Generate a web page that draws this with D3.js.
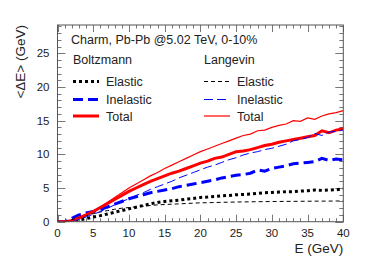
<!DOCTYPE html>
<html>
<head>
<meta charset="utf-8">
<script src="https://cdn.jsdelivr.net/npm/d3@7"></script>
<style>
    body { margin: 0; background: #fff; }
    svg { display: block; font-family: "Liberation Sans", Arial, sans-serif; }
    .curve { fill: none; }
</style>
</head>
<body>
<svg id="chart" width="382" height="261"></svg>
<script>
"use strict";

// energies (GeV)
var energies = [
    0, 1, 2, 3, 4, 5, 6, 7, 8, 9, 10, 11, 12, 13, 14, 15, 16, 17, 18, 19, 20,
    21, 22, 23, 24, 25, 26, 27, 28, 29, 30, 31, 32, 33, 34, 35, 36, 37, 38,
    39, 40
];

// <dE> (GeV), Boltzmann
var boltzElastic = [
    0, 0, 0.1, 0.25, 0.45, 0.7, 0.9, 1.15, 1.4, 1.65, 1.9, 2.15, 2.4, 2.65,
    2.85, 3.0, 3.1, 3.2, 3.35, 3.45, 3.6, 3.65, 3.75, 3.85, 3.9, 4.0, 4.05,
    4.1, 4.2, 4.3, 4.35, 4.4, 4.45, 4.45, 4.55, 4.6, 4.7, 4.65, 4.7, 4.75, 4.85
];
var boltzInelastic = [
    0, 0, 0.5, 1.0, 1.3, 1.5, 1.8, 2.2, 2.6, 3.0, 3.4, 3.7, 4.0, 4.3, 4.5,
    4.7, 4.9, 5.2, 5.4, 5.6, 5.8, 6.0, 6.2, 6.5, 6.7, 6.9, 7.0, 7.2, 7.7, 7.5,
    7.9, 8.1, 8.3, 8.6, 8.7, 8.8, 8.9, 9.4, 9.1, 9.3, 9.2
];
var boltzTotal = [
    0, 0, 0.15, 0.55, 1.0, 1.5, 2.1, 2.7, 3.3, 3.9, 4.5, 5.0, 5.5, 6.0, 6.4,
    6.8, 7.2, 7.5, 7.9, 8.3, 8.7, 9.0, 9.4, 9.6, 10.0, 10.4, 10.5, 10.7, 11.0,
    11.3, 11.5, 11.8, 12.0, 12.2, 12.4, 12.6, 12.8, 13.5, 13.2, 13.6, 13.8
];

// <dE> (GeV), Langevin
var langElastic = [
    0, 0, 0.3, 0.6, 0.9, 1.2, 1.45, 1.65, 1.85, 2.0, 2.1, 2.2, 2.3, 2.4, 2.5,
    2.55, 2.6, 2.65, 2.7, 2.75, 2.8, 2.82, 2.85, 2.88, 2.9, 2.92, 2.94, 2.95,
    2.97, 2.98, 3.0, 3.0, 3.02, 3.02, 3.03, 3.04, 3.05, 3.05, 3.06, 3.07, 3.08
];
var langInelastic = [
    0, 0, 0.1, 0.35, 0.7, 1.1, 1.5, 2.0, 2.5, 3.0, 3.4, 3.9, 4.3, 4.8, 5.2,
    5.6, 6.0, 6.5, 6.9, 7.3, 7.7, 8.1, 8.4, 8.8, 9.2, 9.5, 9.9, 10.2, 10.4,
    10.7, 10.9, 11.2, 11.5, 12.0, 12.2, 12.5, 13.1, 12.8, 13.3, 13.4, 13.6
];
var langTotal = [
    0, 0, 0.15, 0.55, 1.0, 1.6, 2.2, 2.9, 3.6, 4.3, 5.0, 5.6, 6.2, 6.8, 7.3,
    7.9, 8.4, 8.9, 9.4, 9.9, 10.4, 10.8, 11.2, 11.6, 12.0, 12.4, 12.8, 13.0,
    13.5, 13.6, 14.0, 14.3, 14.5, 15.0, 14.9, 15.4, 15.2, 15.7, 16.0, 16.2,
    16.5
];

var xTicks = [0, 5, 10, 15, 20, 25, 30, 35, 40];
var yTicks = [0, 5, 10, 15, 20, 25];

var series = [
    {name: "Elastic", group: "Boltzmann", values: boltzElastic,
        color: "#000", width: 3, dash: "3,3"},
    {name: "Inelastic", group: "Boltzmann", values: boltzInelastic,
        color: "#0000ff", width: 3, dash: "10,5"},
    {name: "Total", group: "Boltzmann", values: boltzTotal,
        color: "#ff0000", width: 3, dash: null},
    {name: "Elastic", group: "Langevin", values: langElastic,
        color: "#000", width: 1, dash: "4,3"},
    {name: "Inelastic", group: "Langevin", values: langInelastic,
        color: "#0000ff", width: 1, dash: "9,4"},
    {name: "Total", group: "Langevin", values: langTotal,
        color: "#ff0000", width: 1.2, dash: null}
];

var frame = {left: 57.5, right: 343.3, top: 25, bottom: 221.7};

var x = d3.scaleLinear().domain([0, 40])
    .range([frame.left, frame.right]);
var y = d3.scaleLinear().domain([0, 29.2])
    .range([frame.bottom, frame.top]);

var svg = d3.select("#chart");

svg.append("clipPath").attr("id", "clip")
    .append("rect")
    .attr("x", frame.left).attr("y", frame.top)
    .attr("width", frame.right - frame.left)
    .attr("height", frame.bottom - frame.top);

// ticks, ROOT style (inside, mirrored)
var tickColor = "#777";
var ticksG = svg.append("g").attr("stroke", tickColor)
    .attr("stroke-width", 1);
d3.range(0, 41, 1).forEach(function (v) {
    var major = v % 5 === 0;
    var px = Math.round(x(v)) + 0.5;
    var len = major ? 7 : 3.5;
    ticksG.append("line").attr("x1", px).attr("x2", px)
        .attr("y1", frame.bottom).attr("y2", frame.bottom - len);
    ticksG.append("line").attr("x1", px).attr("x2", px)
        .attr("y1", frame.top).attr("y2", frame.top + len);
});
d3.range(0, 30, 1).forEach(function (v) {
    var major = v % 5 === 0;
    var py = Math.round(y(v)) + 0.5;
    var len = major ? 8 : 4;
    ticksG.append("line").attr("y1", py).attr("y2", py)
        .attr("x1", frame.left).attr("x2", frame.left + len);
    ticksG.append("line").attr("y1", py).attr("y2", py)
        .attr("x1", frame.right).attr("x2", frame.right - len);
});

var line = d3.line()
    .x(function (d) { return x(d[0]); })
    .y(function (d) { return y(d[1]); });

var curves = svg.append("g").attr("clip-path", "url(#clip)");
series.forEach(function (s) {
    curves.append("path")
        .datum(energies.map(function (e, i) { return [e, s.values[i]]; }))
        .attr("class", "curve")
        .attr("stroke", s.color)
        .attr("stroke-width", s.width)
        .attr("stroke-dasharray", s.dash)
        .attr("d", line);
});

// frame
svg.append("rect")
    .attr("x", frame.left).attr("y", frame.top)
    .attr("width", frame.right - frame.left)
    .attr("height", frame.bottom - frame.top)
    .attr("fill", "none").attr("stroke", "#555").attr("stroke-width", 1);

// tick labels
svg.append("g").selectAll("text").data(xTicks).join("text")
    .attr("x", function (d) { return x(d); })
    .attr("y", 237)
    .attr("text-anchor", "middle")
    .attr("font-size", 11.5)
    .attr("fill", "#222")
    .text(function (d) { return d; });

svg.append("g").selectAll("text").data(yTicks).join("text")
    .attr("x", 49.5)
    .attr("y", function (d) { return y(d) + 4; })
    .attr("text-anchor", "end")
    .attr("font-size", 11.5)
    .attr("fill", "#222")
    .text(function (d) { return d; });

// axis titles
svg.append("text")
    .attr("x", frame.right).attr("y", 253)
    .attr("text-anchor", "end")
    .attr("font-size", 13.5)
    .attr("fill", "#222")
    .text("E (GeV)");

svg.append("text")
    .attr("transform", "translate(24.5," + frame.top + ") rotate(-90)")
    .attr("text-anchor", "end")
    .attr("font-size", 13.5)
    .attr("fill", "#222")
    .text("<ΔE> (GeV)");

// legend
svg.append("text")
    .attr("x", 71).attr("y", 44)
    .attr("font-size", 12.5).attr("fill", "#222")
    .text("Charm, Pb-Pb @5.02 TeV, 0-10%");

var legendCols = {Boltzmann: 73, Langevin: 204};
Object.keys(legendCols).forEach(function (g) {
    svg.append("text")
        .attr("x", legendCols[g]).attr("y", 64)
        .attr("font-size", 12.5).attr("fill", "#222")
        .text(g);
});

var rowY = {Elastic: 81.5, Inelastic: 99.5, Total: 116};
series.forEach(function (s) {
    var lx = legendCols[s.group];
    svg.append("line")
        .attr("x1", lx).attr("x2", lx + 26)
        .attr("y1", rowY[s.name]).attr("y2", rowY[s.name])
        .attr("stroke", s.color)
        .attr("stroke-width", s.width)
        .attr("stroke-dasharray", s.dash);
    svg.append("text")
        .attr("x", lx + 33).attr("y", rowY[s.name] + 4.5)
        .attr("font-size", 12.5).attr("fill", "#222")
        .text(s.name);
});
</script>
</body>
</html>
